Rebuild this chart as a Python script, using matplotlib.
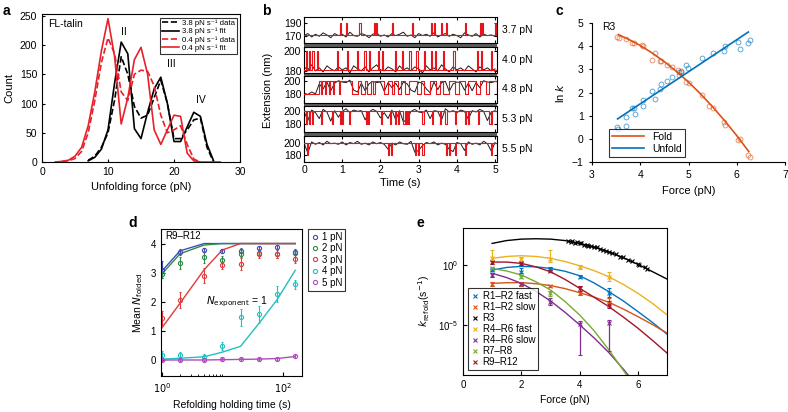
import numpy as np
import matplotlib
matplotlib.use("Agg")
import matplotlib.pyplot as plt
from matplotlib.patches import Rectangle

plt.rcParams["font.family"] = ["Liberation Sans", "DejaVu Sans"]
plt.rcParams["font.size"] = 7.5
plt.rcParams["axes.linewidth"] = 0.8

# ---------------- data: panel a (histograms) ----------------
a_fast_data_x = [7, 8, 9, 10, 11, 12, 13, 14, 15, 16, 17, 18, 19, 20, 21, 22, 23, 24, 25, 26]
a_fast_data_y = [3, 10, 25, 50, 106, 180, 150, 95, 75, 80, 110, 140, 100, 40, 40, 55, 72, 75, 25, 0]
a_fast_fit_x = [7, 8, 9, 10, 11, 12, 13, 14, 15, 16, 17, 18, 19, 20, 21, 22, 23, 24, 25, 26]
a_fast_fit_y = [2, 8, 22, 55, 135, 205, 185, 57, 40, 85, 125, 145, 100, 35, 35, 60, 85, 78, 30, 2]
a_slow_data_x = [3, 4, 5, 6, 7, 8, 9, 10, 11, 12, 13, 14, 15, 16, 17, 18, 19, 20, 21, 22, 23, 24]
a_slow_data_y = [1, 2, 6, 18, 50, 105, 170, 212, 185, 120, 105, 150, 157, 155, 130, 80, 50, 55, 62, 30, 5, 0]
a_slow_fit_x = [2, 3, 4, 5, 6, 7, 8, 9, 10, 11, 12, 13, 14, 15, 16, 17, 18, 19, 20, 21, 22, 23, 24, 27]
a_slow_fit_y = [0, 1, 3, 10, 25, 62, 120, 190, 245, 180, 65, 110, 175, 196, 150, 55, 30, 55, 80, 78, 15, 2, 0, 0]
a_labels = ["3.8 pN s\u207b\u00b9 data", "3.8 pN s\u207b\u00b9 fit", "0.4 pN s\u207b\u00b9 data", "0.4 pN s\u207b\u00b9 fit"]

# ---------------- data: panel b (traces) ----------------
b_forces = ["3.7 pN", "4.0 pN", "4.8 pN", "5.3 pN", "5.5 pN"]
b_ylims = [(160, 198), (178, 204), (166, 208), (167, 207), (169, 212)]
b_yticks = [[170, 190], [180, 200], [180, 200], [180, 200], [180, 200]]
b_levels = [(172, 190), (181, 200), (180, 200), (200, 180), (200, 180)]
s1_events = [0.93, 1.09, 1.45, 1.84, 1.88, 2.3, 2.83, 3.33, 3.41, 3.59, 3.72, 4.21, 4.6, 4.65, 4.99]
s2_events = [0.04, 0.14, 0.22, 0.33, 0.86, 1.12, 1.38, 1.58, 1.69, 1.93, 2.04, 2.38, 2.57, 2.76,
             2.94, 3.13, 3.33, 3.42, 3.63, 3.91, 4.52, 4.63, 4.89]
s3_switch = [0.38, 0.45, 0.48, 0.55, 0.58, 0.65, 0.68, 0.75, 0.78, 0.92, 0.95, 1.25, 1.42, 1.5, 1.6,
             1.65, 1.75, 1.8, 1.85, 2.1, 2.2, 2.3, 2.35, 2.45, 2.55, 2.65, 2.75, 2.95, 3.05, 3.15,
             3.3, 3.45, 3.55, 3.65, 3.8, 3.95, 4.05, 4.2, 4.3, 4.5, 4.6, 4.75, 4.85]
s4_events = [0.05, 0.12, 0.2, 0.45, 0.72, 0.93, 1.0, 1.18, 1.62, 1.68, 2.02, 2.25, 2.38, 2.45, 2.6,
             2.66, 2.72, 3.1, 3.35, 3.55, 3.7, 3.95, 4.2, 4.3, 4.55, 4.85, 4.9]
s5_events = [0.07, 2.2, 2.28, 2.9, 2.98, 3.1, 3.72, 3.8, 3.95, 4.2, 4.88]
b_time = np.linspace(0, 5, 51)
s1_black = [171, 174, 169, 173, 170, 175, 172, 168, 174, 171, 173, 169, 176, 171, 170, 174, 172, 168, 173, 175,
            170, 172, 169, 174, 171, 173, 176, 170, 172, 168, 174, 171, 173, 170, 175, 169, 172, 174, 170, 173,
            171, 168, 175, 172, 170, 174, 169, 173, 171, 172, 170]
s2_black = [184, 181, 186, 180, 183, 179, 185, 182, 180, 184, 181, 183, 178, 185, 182, 180, 184, 179, 183, 186,
            181, 180, 184, 182, 179, 185, 181, 183, 180, 184, 182, 178, 185, 181, 183, 180, 186, 182, 179, 184,
            181, 183, 180, 185, 182, 179, 184, 181, 183, 180, 182]
s3_black = [181, 179, 183, 180, 196, 188, 199, 185, 197, 201, 199, 198, 202, 186, 183, 197, 185, 196, 200, 198,
            199, 184, 198, 190, 197, 187, 199, 196, 186, 183, 199, 197, 188, 182, 199, 187, 198, 200, 184, 196,
            199, 198, 186, 197, 185, 198, 190, 201, 199, 198, 200]
s4_black = [199, 185, 201, 197, 188, 202, 198, 184, 200, 190, 199, 203, 197, 201, 199, 200, 186, 198, 202, 199,
            189, 197, 188, 201, 186, 200, 183, 187, 199, 202, 198, 197, 201, 188, 200, 199, 186, 203, 198, 200,
            197, 201, 199, 187, 200, 198, 202, 199, 185, 198, 200]
s5_black = [200, 184, 202, 198, 201, 197, 203, 199, 200, 198, 202, 197, 201, 199, 203, 198, 200, 197, 202, 199,
            201, 198, 190, 200, 197, 202, 199, 198, 203, 185, 188, 196, 201, 199, 202, 197, 200, 198, 190, 186,
            201, 199, 188, 202, 198, 200, 197, 203, 199, 187, 201]

# ---------------- data: panel c ----------------
fold_f = [3.51, 3.55, 3.7, 3.82, 3.88, 4.03, 4.05, 4.25, 4.3, 4.4, 4.42, 4.55, 4.65, 4.78, 4.8, 4.85,
          4.95, 5.0, 5.27, 5.43, 5.5, 5.73, 5.75, 6.03, 6.07, 6.24, 6.27]
fold_lnk = [4.4, 4.35, 4.29, 4.12, 4.15, 4.07, 4.0, 3.4, 3.72, 3.35, 3.38, 3.2, 3.1, 2.95, 2.75, 2.9,
            2.45, 2.4, 1.9, 1.4, 1.35, 0.73, 0.6, -0.06, 0.0, -0.7, -0.8]
unfold_f = [3.52, 3.53, 3.7, 3.71, 3.82, 3.88, 3.89, 4.05, 4.06, 4.25, 4.3, 4.4, 4.42, 4.55, 4.65, 4.8,
            4.84, 4.95, 4.98, 5.27, 5.5, 5.73, 5.75, 6.03, 6.07, 6.24, 6.27]
unfold_lnk = [0.5, 0.42, 0.57, 0.95, 1.31, 1.32, 1.06, 1.66, 1.42, 2.08, 1.72, 2.17, 2.37, 2.48, 2.65,
              2.9, 2.92, 3.2, 3.05, 3.47, 3.7, 3.81, 4.0, 4.2, 3.88, 4.15, 4.25]
fold_fit_f = [3.55, 3.8, 4.0, 4.25, 4.5, 4.75, 5.0, 5.25, 5.5, 5.75, 6.0, 6.25]
fold_fit_lnk = [4.5, 4.25, 4.03, 3.7, 3.33, 2.91, 2.45, 1.94, 1.38, 0.78, 0.14, -0.55]
unfold_fit_f = [3.53, 6.24]
unfold_fit_lnk = [0.86, 4.61]

# ---------------- data: panel d ----------------
d_time = [1, 2, 5, 10, 20, 40, 80, 160]
d_labels = ["1 pN", "2 pN", "3 pN", "4 pN", "5 pN"]
d_colors = ["#3f4fb4", "#2e8b4a", "#e33a3a", "#25bfbf", "#b04cbf"]
d_mean = [[3.1, 3.7, 3.78, 3.75, 3.76, 3.85, 3.87, 3.7],
          [2.95, 3.33, 3.53, 3.45, 3.65, 3.67, 3.65, 3.67],
          [1.45, 2.05, 2.9, 3.25, 3.3, 3.65, 3.65, 3.48],
          [0.17, 0.17, 0.11, 0.48, 1.46, 1.57, 2.26, 2.6],
          [0.0, 0.0, 0.0, 0.02, 0.02, 0.03, 0.04, 0.12]]
d_err = [[0.3, 0.1, 0.08, 0.08, 0.08, 0.08, 0.08, 0.1],
         [0.12, 0.2, 0.2, 0.12, 0.12, 0.1, 0.15, 0.12],
         [0.25, 0.28, 0.25, 0.12, 0.2, 0.15, 0.15, 0.15],
         [0.15, 0.12, 0.08, 0.15, 0.3, 0.3, 0.28, 0.15],
         [0.04, 0.04, 0.04, 0.04, 0.04, 0.04, 0.04, 0.06]]
d_fit = [[3.05, 3.75, 4.0, 4.0, 4.0, 4.0, 4.0, 4.0],
         [2.95, 3.65, 3.95, 4.0, 4.0, 4.0, 4.0, 4.0],
         [1.1, 1.95, 3.1, 3.78, 4.0, 4.0, 4.0, 4.0],
         [0.03, 0.06, 0.11, 0.27, 0.47, 1.25, 2.07, 3.08],
         [0.0, 0.0, 0.0, 0.01, 0.02, 0.03, 0.05, 0.12]]

# ---------------- data: panel e (log10 of k_refold) ----------------
e_labels = ["R1\u2013R2 fast", "R1\u2013R2 slow", "R3", "R4\u2013R6 fast", "R4\u2013R6 slow", "R7\u2013R8", "R9\u2013R12"]
e_colors = ["#0072BD", "#D95319", "#000000", "#EDB120", "#7E2F8E", "#77AC30", "#A2142F"]
e_force = [1, 2, 3, 4, 5]
e_fit_force = [1, 1.5, 2, 2.5, 3, 3.5, 4, 4.5, 5, 5.5, 6, 6.5, 7]
e_log = {
    "R1\u2013R2 fast": [-0.42, -0.56, -0.3, -0.97, -2.36],
    "R1\u2013R2 slow": [-1.61, -1.61, -1.75, -2.36, -3.19],
    "R4\u2013R6 fast": [0.56, 0.5, 0.47, -0.14, -1.03],
    "R4\u2013R6 slow": [-0.83, -1.58, -3.06, -4.94, -4.86],
    "R7\u2013R8": [-0.28, -0.97, -2.36, None, None],
    "R9\u2013R12": [0.22, 0.14, -0.5, -1.94, -3.33],
}
e_err_lo = {
    "R1\u2013R2 fast": [0.1, 0.1, 0.1, 0.12, 0.3],
    "R1\u2013R2 slow": [0.15, 0.12, 0.12, 0.15, 0.15],
    "R4\u2013R6 fast": [0.25, 0.15, 0.2, 0.15, 0.3],
    "R4\u2013R6 slow": [0.15, 0.1, 0.3, 2.55, 2.35],
    "R7\u2013R8": [0.15, 0.15, 0.2, None, None],
    "R9\u2013R12": [0.12, 0.12, 0.12, 0.2, 0.3],
}
e_err_hi = {
    "R1\u2013R2 fast": [0.1, 0.35, 0.1, 0.12, 0.4],
    "R1\u2013R2 slow": [0.15, 0.12, 0.12, 0.15, 0.4],
    "R4\u2013R6 fast": [0.7, 0.15, 0.8, 0.15, 0.45],
    "R4\u2013R6 slow": [0.15, 0.1, 0.3, 0.3, 0.25],
    "R7\u2013R8": [0.15, 0.15, 0.2, None, None],
    "R9\u2013R12": [0.12, 0.12, 0.12, 0.2, 0.3],
}
e_fit = {
    "R1\u2013R2 fast": [-0.42, -0.2, -0.11, -0.15, -0.28, -0.52, -0.89, -1.5, -2.22, -3.0, -3.89, -4.8, -5.78],
    "R1\u2013R2 slow": [-1.53, -1.48, -1.47, -1.56, -1.72, -1.97, -2.31, -2.68, -3.11, -3.68, -4.31, -4.98, -5.69],
    "R3": [1.81, 2.05, 2.17, 2.2, 2.17, 2.05, 1.81, 1.5, 1.11, 0.62, 0.06, -0.55, -1.17],
    "R4\u2013R6 fast": [0.56, 0.72, 0.78, 0.72, 0.56, 0.3, -0.06, -0.47, -0.97, -1.62, -2.36, -3.2, -4.17],
    "R4\u2013R6 slow": [-0.69, -1.05, -1.53, -2.2, -3.0, -3.95, -5.0, -6.1, -7.31, -8.7, -10.2, -11.8, -13.5],
    "R7\u2013R8": [-0.28, -0.5, -0.83, -1.4, -2.08, -3.05, -4.17, -5.5, -7.08, -8.8, -10.6, -12.5, -14.5],
    "R9\u2013R12": [0.25, 0.25, 0.14, -0.15, -0.56, -1.2, -1.94, -2.7, -3.47, -4.35, -5.28, -6.3, -7.36],
}
r3_force = [3.6, 3.7, 3.75, 3.85, 3.9, 4.0, 4.05, 4.15, 4.25, 4.3, 4.4, 4.5, 4.6, 4.7, 4.8, 4.9,
            5.0, 5.1, 5.25, 5.4, 5.5, 5.65, 5.8, 6.0, 6.05, 6.25, 6.3]
r3_log = [2.0, 1.95, 2.0, 1.88, 1.92, 1.82, 1.85, 1.7, 1.7, 1.6, 1.6, 1.48, 1.47, 1.33, 1.3, 1.17,
          1.13, 1.0, 0.9, 0.7, 0.65, 0.44, 0.3, 0.1, 0.0, -0.2, -0.3]

W, H = 788, 412
fig = plt.figure(figsize=(W / 100, H / 100), dpi=100)


def add_box(l, t, r, b):
    return fig.add_axes([l / W, 1 - b / H, (r - l) / W, (b - t) / H])


def panel_label(x, y, s):
    fig.text(x / W, 1 - y / H, s, fontsize=10, fontweight="bold", ha="left", va="center")


# ---------------- panel a ----------------
ax = add_box(42, 14, 240, 162)
ax.plot(a_fast_data_x, a_fast_data_y, color="k", ls="--", lw=1.2, label=a_labels[0])
ax.plot(a_fast_fit_x, a_fast_fit_y, color="k", lw=1.2, label=a_labels[1])
ax.plot(a_slow_data_x, a_slow_data_y, color="#e8202a", ls="--", lw=1.2, label=a_labels[2])
ax.plot(a_slow_fit_x, a_slow_fit_y, color="#e8202a", lw=1.2, label=a_labels[3])
ax.set_xlim(0, 30)
ax.set_ylim(0, 253)
ax.set_xticks([0, 10, 20, 30])
ax.set_yticks([0, 50, 100, 150, 200, 250])
ax.tick_params(direction="in", length=2.5, labelsize=7.5)
ax.set_xlabel("Unfolding force (pN)", fontsize=8)
ax.set_ylabel("Count", fontsize=8)
ax.text(0.03, 0.93, "FL-talin", transform=ax.transAxes, fontsize=7.5, va="center")
ax.text(12.4, 222, "II", fontsize=7.5, ha="center", va="center")
ax.text(19.6, 168, "III", fontsize=7.5, ha="center", va="center")
ax.text(24.0, 106, "IV", fontsize=7.5, ha="center", va="center")
leg = ax.legend(loc="upper right", bbox_to_anchor=(0.985, 0.975), fontsize=5.6, handlelength=2.2,
                frameon=True, fancybox=False, borderpad=0.25, labelspacing=0.1, handletextpad=0.4,
                borderaxespad=0)
leg.get_frame().set_edgecolor("k")
leg.get_frame().set_linewidth(0.8)
panel_label(3, 11, "a")

# ---------------- panel b ----------------
bx_l, bx_r = 304, 497
fig.patches.append(Rectangle((bx_l / W, 1 - 162 / H), (bx_r - bx_l) / W, 145 / H,
                             transform=fig.transFigure, facecolor="#5c5c5c", edgecolor="none", zorder=0))
strip_h = (145 - 4 * 3.5) / 5
blacks = [s1_black, s2_black, s3_black, s4_black, s5_black]
spike_sets = [s1_events, s2_events, None, s4_events, s5_events]
for i in range(5):
    top = 17 + i * (strip_h + 3.5)
    axb = add_box(bx_l, top, bx_r, top + strip_h)
    axb.set_zorder(2)
    axb.set_facecolor("white")
    base, alt = b_levels[i]
    axb.plot(b_time, blacks[i], color="#1a1a1a", lw=0.7, zorder=2)
    if spike_sets[i] is not None:
        xs, ys = [0], [base]
        for t in spike_sets[i]:
            xs += [t, t, t + 0.03, t + 0.03]
            ys += [base, alt, alt, base]
        xs.append(5.05)
        ys.append(base)
        axb.plot(xs, ys, color="#e8141c", lw=0.8, zorder=3)
    else:
        xs = [0] + s3_switch + [5.05]
        ys = [base if k % 2 == 0 else alt for k in range(len(xs))]
        axb.step(xs, ys, where="post", color="#e8141c", lw=0.8, zorder=3)
    axb.set_xlim(0, 5.05)
    axb.set_ylim(*b_ylims[i])
    axb.set_yticks(b_yticks[i])
    axb.set_xticks([0, 1, 2, 3, 4, 5])
    axb.tick_params(direction="in", length=2, labelsize=7.5, top=True, right=True, pad=2)
    if i < 4:
        axb.set_xticklabels([])
    else:
        axb.set_xlabel("Time (s)", fontsize=8, labelpad=2)
    fig.text(502 / W, 1 - (top + strip_h / 2) / H, b_forces[i], fontsize=7.5, va="center")
fig.text(268 / W, 1 - 90 / H, "Extension (nm)", rotation=90, fontsize=8, ha="center", va="center")
panel_label(262, 11, "b")

# ---------------- panel c ----------------
axc = add_box(592, 23, 785, 162)
axc.plot(fold_f, fold_lnk, "o", mfc="none", mec="#D95319", ms=3.5, mew=0.6, alpha=0.7)
axc.plot(unfold_f, unfold_lnk, "o", mfc="none", mec="#0072BD", ms=3.5, mew=0.6, alpha=0.7)
axc.plot(fold_fit_f, fold_fit_lnk, color="#D95319", lw=1.2, label="Fold")
axc.plot(unfold_fit_f, unfold_fit_lnk, color="#0072BD", lw=1.2, label="Unfold")
axc.set_xlim(3, 7)
axc.set_ylim(-1, 5)
axc.set_xticks([3, 4, 5, 6, 7])
axc.set_yticks([-1, 0, 1, 2, 3, 4, 5])
axc.set_yticklabels(["\u22121", "0", "1", "2", "3", "4", "5"])
axc.spines["top"].set_visible(False)
axc.spines["right"].set_visible(False)
axc.tick_params(direction="out", length=2.5, labelsize=7.5)
axc.set_xlabel("Force (pN)", fontsize=8)
axc.set_ylabel("ln $k$", fontsize=8)
axc.text(0.05, 0.97, "R3", transform=axc.transAxes, fontsize=7.5, va="center")
legc = axc.legend(loc="lower left", bbox_to_anchor=(0.09, 0.035), fontsize=7.5, handlelength=3,
                  fancybox=False, borderpad=0.3, labelspacing=0.2, borderaxespad=0)
legc.get_frame().set_edgecolor("k")
legc.get_frame().set_linewidth(0.8)
panel_label(556, 11, "c")

# ---------------- panel d ----------------
axd = add_box(161, 229, 302, 376)
d_handles = []
for i in range(5):
    axd.plot(d_time, d_fit[i], color=d_colors[i], lw=1.0)
    h = axd.errorbar(d_time, d_mean[i], yerr=d_err[i], fmt="o", mfc="none", mec=d_colors[i],
                     ecolor=d_colors[i], ms=3, mew=0.8, elinewidth=0.8, capsize=1)
    d_handles.append(h[0])
axd.set_xscale("log")
axd.set_xlim(0.97, 207)
axd.set_ylim(-0.55, 4.5)
axd.set_yticks([0, 1, 2, 3, 4])
axd.set_xticks([1, 100])
axd.set_xticklabels(["$10^0$", "$10^2$"])
axd.set_xticks([2, 3, 4, 5, 6, 7, 8, 9, 10], minor=True)
axd.set_xticklabels([], minor=True)
axd.tick_params(which="both", direction="in", labelsize=7)
axd.tick_params(which="major", length=3)
axd.tick_params(which="minor", length=1.5)
axd.set_xlabel("Refolding holding time (s)", fontsize=7.5)
axd.set_ylabel("Mean $N_{\\mathrm{folded}}$", fontsize=7.5)
axd.text(0.03, 0.95, "R9\u2013R12", transform=axd.transAxes, fontsize=7, va="center")
axd.text(5.3, 2.0, "$N_{\\mathrm{exponent}}$ = 1", fontsize=7.5, va="center")
legd = axd.legend(d_handles, d_labels, loc="upper left", bbox_to_anchor=(1.043, 1.0), fontsize=7,
                  handlelength=0.8, handletextpad=0.3, fancybox=False, borderpad=0.3, labelspacing=0.15,
                  borderaxespad=0)
legd.get_frame().set_edgecolor("k")
legd.get_frame().set_linewidth(0.8)
panel_label(128, 223, "d")

# ---------------- panel e ----------------
axe = add_box(463, 228, 667, 375)
for lab, col in zip(e_labels, e_colors):
    axe.plot(e_fit_force, 10.0 ** np.array(e_fit[lab]), color=col, lw=1.0)
handles = []
for lab, col in zip(e_labels, e_colors):
    if lab == "R3":
        h, = axe.plot(r3_force, 10.0 ** np.array(r3_log), "x", color=col, ms=3.5, mew=0.8, label=lab)
        handles.append(h)
        continue
    f = [e_force[k] for k in range(5) if e_log[lab][k] is not None]
    v = np.array([e_log[lab][k] for k in range(5) if e_log[lab][k] is not None])
    lo = np.array([e_err_lo[lab][k] for k in range(5) if e_log[lab][k] is not None])
    hi = np.array([e_err_hi[lab][k] for k in range(5) if e_log[lab][k] is not None])
    yv = 10.0 ** v
    yerr = [yv - 10.0 ** (v - lo), 10.0 ** (v + hi) - yv]
    h = axe.errorbar(f, yv, yerr=yerr, fmt="x", color=col, ms=3.5, mew=0.8, elinewidth=0.9,
                     capsize=1.5, label=lab)
    handles.append(h[0])
axe.set_yscale("log")
axe.set_xlim(0, 7)
axe.set_ylim(10 ** -9.2, 10 ** 3.1)
axe.set_xticks([0, 2, 4, 6])
axe.set_yticks([1e-5, 1e0])
axe.set_yticks([], minor=True)
axe.tick_params(direction="in", length=3, labelsize=7)
axe.set_xlabel("Force (pN)", fontsize=7.5)
axe.set_ylabel("$k_{\\mathrm{refold}}$(s$^{-1}$)", fontsize=7.5)
lege = axe.legend(handles, e_labels, loc="lower left", bbox_to_anchor=(0.025, 0.034), fontsize=7,
                  handlelength=0.8, handletextpad=0.4, fancybox=False, borderpad=0.3, labelspacing=0.1,
                  borderaxespad=0)
lege.get_frame().set_edgecolor("k")
lege.get_frame().set_linewidth(0.8)
panel_label(417, 223, "e")

fig.savefig("out.png", dpi=100)
